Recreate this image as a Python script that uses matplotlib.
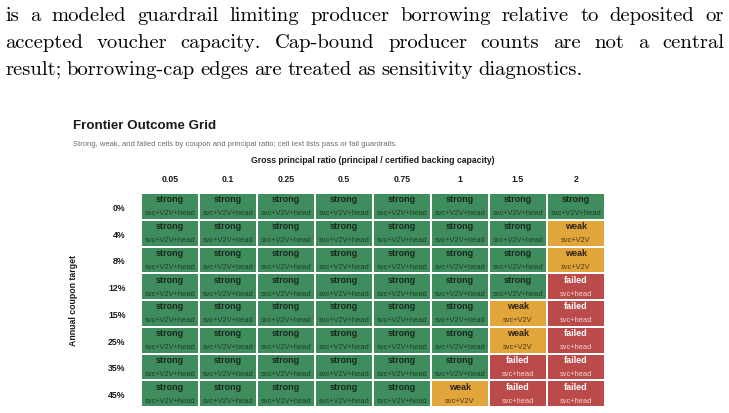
import matplotlib
matplotlib.use("Agg")
import matplotlib.pyplot as plt
import numpy as np
from matplotlib.colors import ListedColormap

# data
ratios = ["0.05", "0.1", "0.25", "0.5", "0.75", "1", "1.5", "2"]
coupons = ["0%", "4%", "8%", "12%", "15%", "25%", "35%", "45%"]
# 0 = strong, 1 = weak, 2 = failed
status = [
    [0, 0, 0, 0, 0, 0, 0, 0],
    [0, 0, 0, 0, 0, 0, 0, 1],
    [0, 0, 0, 0, 0, 0, 0, 1],
    [0, 0, 0, 0, 0, 0, 0, 2],
    [0, 0, 0, 0, 0, 0, 1, 2],
    [0, 0, 0, 0, 0, 0, 1, 2],
    [0, 0, 0, 0, 0, 0, 2, 2],
    [0, 0, 0, 0, 0, 1, 2, 2],
]
names = ["strong", "weak", "failed"]
guards = ["svc+V2V+head", "svc+V2V", "svc+head"]

paragraph = [
    "is a modeled guardrail limiting producer borrowing relative to deposited or",
    "accepted voucher capacity.  Cap-bound producer counts are not a central",
    "result; borrowing-cap edges are treated as sensitivity diagnostics.",
]

W, H = 729, 414
fig = plt.figure(figsize=(W / 100, H / 100), dpi=100)
fig.patch.set_facecolor("white")

# paragraph text, justified
renderer = fig.canvas.get_renderer()
fs_par = 14.8
baselines = [21, 48, 75]
for i, line in enumerate(paragraph):
    words = line.split()
    objs = [fig.text(0, 1 - baselines[i] / H, w, fontsize=fs_par, family="cmr10",
                     va="baseline", ha="left") for w in words]
    widths = [o.get_window_extent(renderer).width for o in objs]
    x0, x1 = 5, 724
    if i < len(paragraph) - 1:
        gap = (x1 - x0 - sum(widths)) / (len(words) - 1)
    else:
        gap = 5.5
    x = x0
    for o, w in zip(objs, widths):
        o.set_x(x / W)
        x += w + gap

sans = "Liberation Sans"
fig.text(73 / W, 1 - 126 / H, "Frontier Outcome Grid", fontsize=9.6, fontweight="bold",
         family=sans, va="center", color="#1a1a1a")
fig.text(73 / W, 1 - 144 / H,
         "Strong, weak, and failed cells by coupon and principal ratio; cell text lists pass or fail guardrails.",
         fontsize=5.5, family=sans, va="center", color="#6b6b6b")

ax = fig.add_axes([141 / W, 6 / H, 464 / W, 214 / H])
grid = np.array(status)
cmap = ListedColormap(["#3f8d5c", "#e2a53c", "#bb4a4a"])
ax.pcolormesh(grid, cmap=cmap, vmin=-0.5, vmax=2.5, edgecolors="white", linewidth=1.2)
ax.set_xlim(0, len(ratios))
ax.set_ylim(len(coupons), 0)

text_col = {0: ("#18271e", "#1d3d2a"), 1: ("#2a2418", "#4a3a18"), 2: ("white", "#f2d6d6")}
for r in range(len(coupons)):
    for c in range(len(ratios)):
        s = status[r][c]
        ax.text(c + 0.5, r + 0.22, names[s], ha="center", va="center", fontsize=6.5,
                fontweight="bold", family=sans, color=text_col[s][0])
        ax.text(c + 0.5, r + 0.74, guards[s], ha="center", va="center", fontsize=5.4,
                family=sans, color=text_col[s][1])

ax.set_xticks(np.arange(len(ratios)) + 0.5)
ax.set_xticklabels(ratios, fontsize=6.3, fontweight="bold", family=sans)
ax.set_yticks(np.arange(len(coupons)) + 0.5)
ax.set_yticklabels(coupons, fontsize=6.3, fontweight="bold", family=sans)
ax.xaxis.tick_top()
ax.tick_params(length=0, colors="#1a1a1a")
ax.tick_params(axis="x", pad=7)
ax.tick_params(axis="y", pad=11)
ax.xaxis.set_label_position("top")
ax.set_xlabel("Gross principal ratio (principal / certified backing capacity)", fontsize=6.2,
              fontweight="bold", family=sans, labelpad=9, color="#1a1a1a")
ax.set_ylabel("Annual coupon target", fontsize=6.3, fontweight="bold", family=sans,
              labelpad=22, color="#1a1a1a")
for sp in ax.spines.values():
    sp.set_visible(False)

fig.savefig("out.png", dpi=100)
